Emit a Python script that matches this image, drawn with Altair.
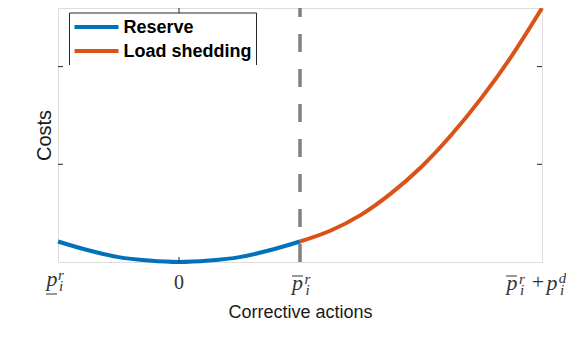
import altair as alt
import pandas as pd

# ---- data ----
reserve_x = [-1.0, -0.75, -0.5, -0.25, 0.0, 0.25, 0.5, 0.75, 1.0]
reserve_cost = [0.21, 0.12, 0.05, 0.015, 0.0, 0.015, 0.05, 0.12, 0.21]
shed_x = [1.0, 1.25, 1.5, 1.75, 2.0, 2.25, 2.5, 2.75, 3.0]
shed_cost = [0.21, 0.32, 0.48, 0.70, 0.97, 1.30, 1.68, 2.11, 2.60]
series_names = ["Reserve", "Load shedding"]
series_colors = ["#0072BD", "#D95319"]
x_ticks = [-1, 0, 1, 3]
y_ticks = [1, 2]
threshold_x = [1]

W, H = 484, 254
X_DOM = [-1, 3]
Y_DOM = [0, 2.6]

df = pd.concat([
    pd.DataFrame({"x": reserve_x, "cost": reserve_cost, "series": series_names[0]}),
    pd.DataFrame({"x": shed_x, "cost": shed_cost, "series": series_names[1]}),
])

xs = alt.Scale(domain=X_DOM, nice=False, zero=False)
ys = alt.Scale(domain=Y_DOM, nice=False, zero=False)

xax = alt.Axis(labels=False, ticks=False, domain=False, grid=False,
               title="Corrective actions", titleFont="Liberation Sans",
               titleFontSize=18, titleFontWeight="normal", titleColor="#1a1a1a",
               titlePadding=41)
yax = alt.Axis(labels=False, ticks=False, domain=False, grid=False,
               title="Costs", titleFont="Liberation Sans",
               titleFontSize=20, titleFontWeight="normal", titleColor="#1a1a1a",
               titlePadding=4)

dash = alt.Chart(pd.DataFrame({"x": threshold_x})).mark_rule(
    color="#808080", strokeWidth=3.5, strokeDash=[18, 17]
).encode(x=alt.X("x:Q", scale=xs, axis=xax), y=alt.datum(Y_DOM[0]), y2=alt.datum(Y_DOM[1]))

lines = alt.Chart(df).mark_line(strokeWidth=4, interpolate="monotone").encode(
    x=alt.X("x:Q", scale=xs, axis=xax),
    y=alt.Y("cost:Q", scale=ys, axis=yax),
    color=alt.Color("series:N", scale=alt.Scale(domain=series_names, range=series_colors),
                    legend=None),
)

# inward ticks (mirrored box)
yt = pd.DataFrame({"v": y_ticks})
lt = alt.Chart(yt).mark_rule(color="#262626").encode(
    y=alt.Y("v:Q", scale=ys), x=alt.value(0), x2=alt.value(5))
rt = alt.Chart(yt).mark_rule(color="#262626").encode(
    y=alt.Y("v:Q", scale=ys), x=alt.value(W - 5), x2=alt.value(W))
xt = pd.DataFrame({"v": [x_ticks[1]]})
bt = alt.Chart(xt).mark_rule(color="#262626").encode(
    x=alt.X("v:Q", scale=xs), y=alt.value(H - 5), y2=alt.value(H))
tt = alt.Chart(xt).mark_rule(color="#262626").encode(
    x=alt.X("v:Q", scale=xs), y=alt.value(0), y2=alt.value(5))


def piece(val, text, dx, y, size, italic=True):
    return alt.Chart(pd.DataFrame({"v": [val]})).mark_text(
        text=text, dx=dx, align="center", baseline="alphabetic",
        font="Liberation Serif", fontSize=size,
        fontStyle="italic" if italic else "normal", color="#333333",
    ).encode(x=alt.X("v:Q", scale=xs), y=alt.value(y))


def bar(val, x0, x1, y):
    return alt.Chart(pd.DataFrame({"v": [val]})).mark_rule(
        color="#333333", strokeWidth=1, xOffset=x0, x2Offset=x1
    ).encode(x=alt.X("v:Q", scale=xs), x2=alt.X2("v"), y=alt.value(y))


BIG, SM = 22, 15
labels = [
    # underline p_i^r at left end
    piece(x_ticks[0], "p", -6, 278, BIG), piece(x_ticks[0], "r", 3, 272, SM),
    piece(x_ticks[0], "i", 3, 283, SM), bar(x_ticks[0], -12, -1, 286),
    # 0
    piece(x_ticks[1], "0", 0, 281, 20, italic=False),
    # bar p_i^r
    piece(x_ticks[2], "p", -2.5, 282, BIG), piece(x_ticks[2], "r", 7.5, 276, SM),
    piece(x_ticks[2], "i", 7.5, 287, SM), bar(x_ticks[2], -8, 3, 268),
    # bar p_i^r + p_i^d
    piece(x_ticks[3], "p", -30, 282, BIG), piece(x_ticks[3], "r", -20, 276, SM),
    piece(x_ticks[3], "i", -20, 287, SM), bar(x_ticks[3], -36, -25, 268),
    piece(x_ticks[3], "+", -4, 281, BIG, italic=False),
    piece(x_ticks[3], "p", 10, 282, BIG), piece(x_ticks[3], "d", 20.5, 275, SM),
    piece(x_ticks[3], "i", 20, 287, SM),
]

# legend drawn as marks (box with open bottom, as in the reference)
LX0, LX1, LY0, LY1 = 11.5, 198.5, 5, 57
leg_bg = alt.Chart(pd.DataFrame({"a": [0]})).mark_rect(fill="white").encode(
    x=alt.value(LX0), x2=alt.value(LX1), y=alt.value(LY0), y2=alt.value(LY1))
leg_frame = [
    alt.Chart(pd.DataFrame({"a": [0]})).mark_rule(color="#262626", strokeWidth=1).encode(
        x=alt.value(a), x2=alt.value(b), y=alt.value(c), y2=alt.value(d))
    for a, b, c, d in [(LX0, LX1, LY0, LY0), (LX0, LX0, LY0, LY1), (LX1, LX1, LY0, LY1)]
]
leg_rows = []
for i, name in enumerate(series_names):
    yrow = 19 + 24 * i
    leg_rows.append(alt.Chart(pd.DataFrame({"s": [name]})).mark_rule(
        strokeWidth=4, color=series_colors[i]).encode(
        x=alt.value(16.5), x2=alt.value(60.5), y=alt.value(yrow)))
    leg_rows.append(alt.Chart(pd.DataFrame({"s": [name]})).mark_text(
        align="left", baseline="middle", font="Liberation Sans", fontWeight="bold",
        fontSize=18, color="#000000").encode(
        text="s:N", x=alt.value(65.5), y=alt.value(yrow + 1)))

chart = alt.layer(dash, lines, lt, rt, bt, tt, leg_bg, *leg_frame, *leg_rows, *labels).properties(
    width=W, height=H, autosize=alt.AutoSizeParams(type="none"),
    padding={"left": 50, "top": 0, "right": 24, "bottom": 76},
).configure_view(stroke="#262626", strokeWidth=1).configure(
    background="white")

chart.save("out.html", embed_options={"renderer": "svg", "actions": False})
